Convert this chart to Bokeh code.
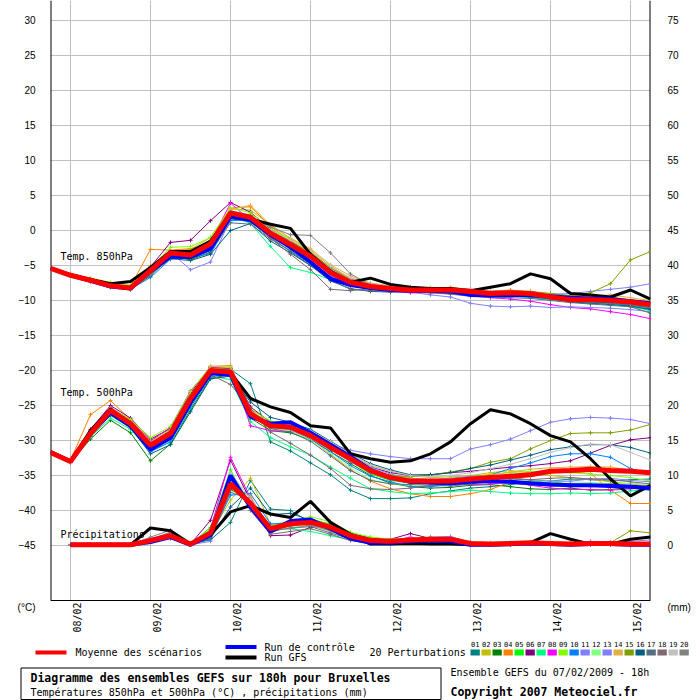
import math
from bokeh.plotting import figure
from bokeh.models import Range1d, LinearAxis, FixedTicker, Label, BoxAnnotation, Span
from bokeh.layouts import column
from bokeh.core.properties import value
from bokeh.embed import file_html
from bokeh.resources import INLINE

# ---------------- data ----------------
hours = [6 * i for i in range(31)]          # 0h .. 180h (run 07/02 18h)
hours_pr = hours[1:]                          # precipitation starts at +6h
day_ticks = [6, 30, 54, 78, 102, 126, 150, 174]
day_label_ticks = [8, 32, 56, 80, 104, 128, 152, 176]
day_labels = ["08/02", "09/02", "10/02", "11/02", "12/02", "13/02", "14/02", "15/02"]
temp_ticks = list(range(-45, 31, 5))
mm_ticks = list(range(0, 76, 5))

pert_names = ["01", "02", "03", "04", "05", "06", "07", "08", "09", "10",
              "11", "12", "13", "14", "15", "16", "17", "18", "19", "20"]
pert_colors = ["#008080", "#c0c000", "#008000", "#ff8000", "#00ff00", "#800080",
               "#00ff80", "#ff00ff", "#80ff00", "#0080ff", "#8080ff", "#80ff80",
               "#8080ff", "#e0b040", "#80a000", "#005f80", "#507080", "#806870",
               "#c0c0c0", "#808080"]

t850_mean = [-5.4, -6.4, -7.1, -7.9, -8.2, -5.7, -3.2, -3.5, -1.9, 2.5, 1.9, -0.4, -2.0, -3.7, -6.0, -7.4,
             -8.0, -8.3, -8.5, -8.5, -8.5, -8.7, -9.0, -8.9, -9.0, -9.5, -9.9, -9.9, -10.0, -10.2, -10.6]
t850_ctrl = [-5.4, -6.4, -7.2, -8.0, -8.3, -5.8, -3.7, -3.8, -2.6, 2.0, 1.5, -0.6, -2.4, -4.5, -6.9, -7.8,
             -8.2, -8.5, -8.6, -8.6, -8.7, -9.2, -9.3, -9.2, -9.2, -9.4, -9.6, -9.7, -9.8, -10.1, -10.4]
t850_gfs = [-5.4, -6.3, -7.0, -7.6, -7.3, -5.3, -3.0, -3.0, -1.5, 2.3, 1.6, 0.9, 0.3, -3.4, -5.8, -7.4,
            -6.8, -7.7, -8.1, -8.3, -8.3, -8.6, -8.1, -7.6, -6.2, -6.9, -9.0, -9.2, -9.5, -8.5, -9.8]
t850_perts = [
    [-5.3, -6.3, -7.2, -8.0, -8.4, -6.2, -3.8, -3.9, -2.8, 1.8, 1.2, -1.0, -3.0, -5.0, -6.8, -7.9, -8.3, -8.6, -8.8, -8.7, -8.9, -9.1, -9.3, -9.0, -9.2, -9.6, -10.2, -10.4, -10.3, -10.8, -11.2],
    [-5.5, -6.5, -7.0, -7.9, -8.1, -5.0, -2.9, -2.7, -1.0, 3.1, 2.9, 0.8, -1.2, -2.8, -5.1, -6.9, -7.7, -8.0, -8.3, -8.6, -8.4, -8.5, -8.8, -8.6, -8.7, -9.3, -9.5, -9.5, -9.7, -9.9, -10.1],
    [-5.4, -6.4, -7.3, -8.1, -8.3, -6.5, -3.6, -4.2, -3.1, 1.5, 1.8, -0.9, -2.2, -4.0, -6.1, -7.6, -8.4, -8.4, -8.6, -8.4, -8.7, -9.0, -9.1, -8.8, -9.3, -9.8, -10.0, -10.2, -10.5, -10.6, -11.0],
    [-5.5, -6.5, -7.1, -7.8, -8.0, -2.7, -2.8, -2.6, -1.8, 3.2, 3.4, 0.6, -1.5, -3.0, -5.4, -6.8, -7.6, -8.1, -8.5, -8.3, -8.6, -8.9, -8.7, -8.5, -8.8, -9.0, -9.4, -9.6, -9.5, -9.9, -10.3],
    [-5.4, -6.4, -7.2, -8.0, -8.2, -5.6, -3.4, -3.6, -1.6, 2.8, 2.2, -0.2, -1.8, -3.5, -5.8, -7.2, -8.1, -8.5, -8.4, -8.6, -8.5, -8.8, -8.9, -9.1, -9.0, -9.4, -9.7, -10.0, -10.3, -10.5, -11.5],
    [-5.4, -6.3, -7.1, -7.9, -8.1, -5.2, -1.7, -1.4, 1.4, 4.0, 2.6, 0.2, -1.6, -3.6, -5.9, -7.0, -7.7, -8.0, -8.1, -8.2, -8.3, -8.4, -8.7, -8.6, -8.9, -9.2, -9.7, -9.9, -10.2, -10.4, -11.0],
    [-5.3, -6.4, -7.2, -8.0, -8.2, -5.9, -3.5, -3.6, -2.2, 2.1, 1.0, -2.3, -5.3, -6.0, -7.0, -7.6, -8.2, -8.4, -8.6, -8.7, -8.9, -9.3, -9.4, -9.3, -9.6, -9.9, -10.1, -10.3, -10.4, -10.9, -11.4],
    [-5.4, -6.5, -7.2, -8.0, -8.3, -5.8, -3.3, -3.4, -1.7, 3.9, 1.4, -0.8, -2.4, -4.0, -6.4, -7.8, -8.3, -8.7, -8.9, -8.9, -9.0, -9.3, -9.6, -9.8, -10.1, -10.6, -11.0, -11.2, -11.6, -12.0, -12.6],
    [-5.3, -6.2, -6.8, -7.4, -7.8, -5.4, -2.4, -2.3, -1.0, 3.3, 2.5, 0.3, -1.3, -3.5, -6.2, -7.3, -8.0, -8.2, -8.6, -8.8, -8.6, -8.8, -9.0, -9.1, -9.2, -9.6, -10.0, -10.2, -10.1, -10.4, -10.8],
    [-5.4, -6.4, -7.2, -8.1, -8.4, -6.7, -4.1, -3.9, -3.3, 1.4, 1.5, -0.7, -2.6, -4.4, -6.6, -7.7, -8.1, -8.4, -8.5, -8.4, -8.8, -9.2, -9.4, -9.2, -9.5, -9.8, -10.1, -10.2, -10.4, -10.7, -11.0],
    [-5.4, -6.4, -7.1, -7.9, -8.2, -6.0, -3.1, -5.6, -4.5, 1.6, 2.1, -0.3, -2.1, -3.9, -6.3, -7.5, -8.2, -8.6, -8.8, -9.2, -9.5, -10.4, -10.8, -10.9, -10.8, -11.0, -10.9, -11.0, -11.1, -11.3, -11.6],
    [-5.4, -6.4, -7.1, -7.9, -8.2, -5.9, -3.4, -3.3, -2.0, 2.7, 2.0, -0.5, -2.8, -4.1, -5.5, -7.2, -8.2, -8.3, -8.4, -8.1, -8.3, -8.6, -8.9, -8.8, -8.9, -9.3, -9.8, -9.9, -10.1, -10.4, -10.9],
    [-5.4, -6.4, -7.2, -8.0, -8.3, -5.9, -3.6, -3.7, -2.3, 2.3, 1.6, -0.7, -2.0, -3.3, -5.6, -7.0, -7.9, -8.3, -8.5, -8.6, -8.6, -8.7, -8.8, -8.9, -8.9, -9.1, -9.0, -8.7, -8.4, -8.1, -7.6],
    [-5.5, -6.5, -7.1, -7.8, -8.0, -5.5, -2.9, -3.0, -1.4, 3.0, 3.6, 0.8, -1.1, -2.6, -4.9, -6.5, -7.5, -7.9, -8.2, -8.3, -8.1, -8.4, -8.7, -8.6, -8.8, -9.1, -9.3, -9.4, -9.2, -9.6, -10.0],
    [-5.4, -6.3, -7.0, -7.8, -8.1, -5.6, -3.0, -3.3, -1.6, 2.6, 2.1, 0.1, -1.5, -3.2, -5.3, -7.1, -7.8, -8.2, -8.3, -8.5, -8.4, -8.6, -8.8, -8.7, -8.7, -9.0, -9.3, -8.9, -7.6, -4.2, -3.0],
    [-5.4, -6.4, -7.2, -8.0, -8.3, -6.3, -4.0, -4.3, -3.4, 0.0, 1.0, -1.5, -3.2, -5.0, -7.2, -8.3, -8.7, -8.8, -8.7, -8.8, -8.9, -9.1, -9.3, -9.4, -9.5, -9.7, -10.2, -10.4, -10.6, -10.8, -11.3],
    [-5.4, -6.4, -7.2, -8.0, -8.3, -6.1, -3.9, -4.0, -2.9, 1.1, 0.9, -1.2, -2.9, -4.8, -7.1, -8.4, -8.6, -8.7, -8.7, -8.9, -9.1, -9.4, -9.5, -9.6, -9.7, -10.0, -10.3, -10.5, -10.7, -10.9, -11.8],
    [-5.4, -6.4, -7.2, -8.0, -8.4, -6.4, -3.5, -3.9, -2.5, 2.2, 1.3, -1.1, -3.4, -5.6, -8.4, -8.6, -8.3, -8.5, -8.7, -8.6, -8.8, -9.0, -9.2, -9.3, -9.4, -9.5, -9.8, -10.0, -10.3, -10.6, -11.0],
    [-5.4, -6.4, -7.1, -7.9, -8.2, -5.7, -3.2, -3.5, -2.1, 2.4, 1.7, 0.1, -1.4, -2.9, -5.1, -6.8, -7.6, -8.0, -8.2, -8.3, -8.4, -8.5, -8.7, -8.7, -8.8, -9.2, -9.6, -9.7, -9.9, -10.3, -10.7],
    [-5.4, -6.4, -7.2, -8.0, -8.5, -6.2, -3.4, -3.3, -2.0, 2.6, 2.1, 0.5, -0.6, -0.7, -3.2, -6.2, -7.8, -8.2, -8.4, -8.6, -8.5, -8.8, -8.9, -8.8, -9.0, -9.3, -9.6, -9.8, -10.0, -10.2, -10.5],
]

t500_mean = [-31.7, -33.0, -29.0, -25.7, -27.6, -30.7, -29.0, -24.0, -20.0, -20.2, -26.2, -27.9, -28.1, -29.3, -31.0, -32.6,
             -34.3, -35.3, -35.8, -35.8, -35.8, -35.5, -35.3, -35.1, -34.9, -34.4, -34.3, -34.1, -34.3, -34.4, -34.6]
t500_ctrl = [-31.7, -33.0, -29.0, -26.0, -27.9, -31.3, -29.6, -24.6, -20.4, -20.6, -26.6, -27.6, -27.4, -28.9, -30.6, -32.3,
             -34.2, -35.3, -35.9, -36.0, -36.1, -35.9, -35.8, -35.9, -36.1, -36.3, -36.4, -36.4, -36.5, -36.6, -36.8]
t500_gfs = [-31.6, -32.9, -28.6, -25.5, -27.8, -31.3, -29.5, -24.4, -20.3, -20.3, -24.0, -25.2, -26.0, -27.9, -28.2, -31.9,
            -32.6, -33.1, -32.9, -31.9, -30.2, -27.6, -25.6, -26.2, -27.6, -29.3, -30.2, -32.6, -35.5, -37.9, -36.4]
t500_perts = [
    [-31.6, -33.1, -29.3, -26.2, -28.0, -31.4, -29.8, -24.6, -20.4, -19.8, -21.9, -30.2, -31.5, -33.2, -34.9, -37.1, -38.3, -38.3, -38.2, -37.6, -37.2, -36.8, -36.6, -36.3, -36.0, -35.8, -35.5, -35.6, -35.8, -35.6, -35.5],
    [-31.7, -32.9, -28.5, -25.3, -27.0, -30.0, -28.2, -23.1, -19.6, -19.9, -25.5, -27.3, -27.6, -28.8, -30.4, -32.0, -33.6, -34.4, -35.0, -35.3, -35.2, -35.0, -34.6, -34.3, -34.6, -35.0, -35.3, -35.5, -35.9, -36.2, -36.5],
    [-31.8, -33.1, -29.8, -27.1, -28.9, -32.9, -30.5, -25.6, -21.1, -20.6, -26.8, -28.6, -28.9, -29.9, -31.6, -33.3, -35.0, -36.1, -36.6, -36.8, -36.7, -36.4, -36.3, -36.6, -36.9, -37.0, -36.8, -37.1, -37.0, -36.7, -36.9],
    [-31.6, -32.8, -26.3, -24.3, -27.0, -30.3, -28.6, -23.5, -19.4, -19.3, -25.8, -27.6, -28.4, -29.8, -32.0, -34.2, -35.8, -36.9, -37.6, -38.0, -38.0, -37.6, -37.0, -35.9, -34.9, -34.6, -34.5, -34.7, -37.1, -39.0, -39.0],
    [-31.7, -33.0, -28.7, -25.5, -27.3, -30.4, -28.5, -23.4, -19.5, -19.8, -25.9, -27.8, -28.3, -29.6, -31.3, -33.0, -34.8, -35.7, -36.1, -36.0, -35.9, -35.6, -35.3, -35.4, -35.7, -35.9, -36.2, -36.4, -36.3, -36.6, -36.8],
    [-31.7, -33.0, -28.4, -25.0, -26.8, -29.8, -28.3, -23.2, -19.5, -19.7, -25.2, -27.4, -27.9, -28.9, -30.5, -32.2, -33.8, -34.6, -35.0, -34.9, -34.6, -34.4, -34.1, -33.8, -33.6, -33.3, -32.9, -31.8, -30.7, -29.9, -29.6],
    [-31.7, -33.1, -29.5, -26.8, -28.4, -31.6, -30.1, -25.3, -20.8, -21.3, -27.3, -29.6, -30.9, -32.1, -33.8, -35.4, -36.9, -37.3, -37.6, -37.5, -37.3, -37.1, -37.3, -37.5, -37.6, -37.6, -37.5, -37.6, -37.5, -37.2, -37.0],
    [-31.7, -33.0, -28.6, -25.3, -27.1, -30.1, -28.1, -22.9, -19.6, -19.6, -27.9, -28.6, -28.7, -29.5, -31.2, -33.0, -34.6, -35.5, -36.0, -36.2, -36.3, -36.3, -36.2, -36.0, -36.4, -36.8, -37.0, -37.0, -37.1, -36.9, -36.7],
    [-31.7, -33.0, -28.7, -25.4, -27.0, -29.6, -28.0, -23.0, -19.4, -19.5, -25.6, -27.2, -27.8, -29.0, -30.8, -32.6, -34.2, -35.2, -35.6, -35.6, -35.5, -35.2, -34.8, -34.6, -34.4, -34.5, -34.6, -34.8, -35.0, -35.3, -35.8],
    [-31.7, -33.0, -29.2, -26.3, -28.1, -31.6, -30.2, -25.2, -20.9, -20.5, -26.0, -27.6, -28.2, -29.8, -31.6, -33.6, -35.1, -35.9, -36.6, -36.6, -36.3, -35.6, -34.9, -34.0, -33.2, -32.3, -31.9, -31.9, -32.4, -34.0, -34.8],
    [-31.7, -33.2, -29.1, -26.0, -27.8, -31.0, -29.4, -24.4, -20.3, -20.4, -26.4, -28.0, -28.5, -29.5, -30.5, -31.4, -31.9, -32.3, -32.6, -32.6, -32.6, -31.2, -30.6, -29.8, -28.6, -27.4, -26.9, -26.7, -26.8, -27.0, -27.6],
    [-31.7, -32.9, -28.9, -25.9, -27.5, -30.5, -28.7, -23.7, -19.8, -20.0, -26.1, -28.2, -28.6, -29.9, -31.9, -33.9, -35.6, -36.2, -36.4, -36.1, -35.8, -35.6, -35.7, -35.9, -36.0, -35.8, -35.9, -36.0, -36.2, -36.1, -36.3],
    [-31.7, -33.0, -28.9, -25.8, -27.7, -30.9, -29.2, -24.1, -20.1, -20.2, -26.1, -27.6, -27.9, -28.9, -30.3, -32.0, -33.8, -34.8, -35.4, -35.6, -35.4, -35.1, -35.0, -35.4, -35.6, -35.8, -35.8, -35.5, -35.4, -35.7, -35.9],
    [-31.7, -33.0, -28.6, -25.4, -27.3, -30.2, -28.4, -23.5, -19.4, -19.6, -25.8, -27.5, -27.9, -29.0, -30.8, -32.6, -34.2, -35.0, -35.4, -35.6, -35.6, -35.3, -34.9, -34.5, -34.1, -33.9, -33.8, -33.7, -33.8, -34.2, -35.0],
    [-31.7, -33.0, -28.8, -25.6, -27.4, -30.6, -28.9, -23.8, -19.8, -20.0, -25.9, -27.7, -28.2, -29.4, -31.1, -32.8, -34.3, -35.0, -35.2, -34.9, -34.5, -34.0, -33.1, -32.6, -31.2, -30.0, -29.0, -28.9, -28.9, -28.5, -27.7],
    [-31.6, -33.1, -29.4, -26.4, -28.2, -31.9, -30.6, -25.9, -21.2, -20.8, -24.5, -26.7, -27.4, -28.4, -30.1, -31.8, -33.3, -34.2, -34.9, -34.9, -34.6, -34.0, -33.5, -32.8, -32.1, -31.3, -30.9, -30.6, -30.6, -31.0, -31.8],
    [-31.7, -33.0, -29.0, -25.9, -27.8, -31.1, -29.5, -24.5, -20.5, -20.8, -26.5, -28.3, -28.8, -30.1, -32.2, -34.3, -35.7, -36.2, -36.3, -36.4, -36.5, -36.2, -35.9, -36.1, -36.3, -36.5, -36.4, -36.6, -36.5, -36.8, -37.1],
    [-31.7, -33.1, -29.2, -26.3, -27.9, -31.2, -29.7, -24.8, -20.6, -22.0, -25.4, -28.8, -30.4, -32.1, -34.0, -36.4, -36.9, -37.0, -36.8, -36.4, -36.0, -35.7, -35.4, -35.5, -35.6, -35.4, -35.3, -35.5, -35.6, -35.9, -36.2],
    [-31.7, -33.0, -28.9, -25.6, -27.5, -30.4, -28.8, -23.8, -19.9, -20.1, -26.0, -27.4, -27.7, -28.6, -30.2, -31.9, -33.5, -34.4, -35.0, -35.2, -35.0, -34.6, -34.0, -33.4, -32.6, -31.7, -31.0, -30.5, -30.6, -31.7, -32.8],
    [-31.7, -33.0, -28.8, -25.5, -27.4, -30.3, -28.6, -23.7, -19.9, -20.3, -26.3, -28.1, -28.2, -29.1, -30.9, -32.9, -34.6, -35.4, -35.9, -36.0, -35.9, -35.7, -35.6, -35.8, -36.0, -36.1, -36.2, -36.3, -36.2, -36.4, -36.6],
]

pr_mean = [0.1, 0.1, 0.1, 0.1, 0.7, 1.4, 0.2, 1.8, 8.8, 6.0, 2.4, 3.1, 3.3, 2.6, 1.4,
           0.7, 0.6, 0.8, 0.9, 0.9, 0.3, 0.2, 0.3, 0.4, 0.3, 0.2, 0.3, 0.3, 0.2, 0.2]
pr_ctrl = [0.1, 0.1, 0.1, 0.1, 0.5, 1.2, 0.1, 1.5, 10.0, 5.5, 2.0, 3.5, 3.7, 2.4, 1.0,
           0.4, 0.4, 0.6, 0.7, 0.6, 0.1, 0.1, 0.2, 0.3, 0.2, 0.1, 0.2, 0.2, 0.1, 0.1]
pr_gfs = [0.1, 0.1, 0.1, 0.1, 2.5, 2.1, 0.2, 1.5, 4.8, 5.7, 4.5, 4.0, 6.3, 3.3, 1.6,
          0.2, 0.2, 0.3, 0.2, 0.2, 0.1, 0.1, 0.1, 0.4, 1.7, 0.9, 0.2, 0.2, 0.9, 1.2]
pr_perts = [
    [0.1, 0.1, 0.1, 0.1, 0.6, 1.2, 0.2, 0.8, 3.3, 9.3, 5.2, 5.0, 3.3, 2.9, 1.8, 1.0, 0.8, 0.7, 0.8, 1.0, 0.5, 0.3, 0.3, 0.4, 0.3, 0.2, 0.2, 0.3, 0.4, 0.3],
    [0.1, 0.1, 0.1, 0.1, 0.8, 1.5, 0.2, 1.6, 6.5, 9.6, 3.0, 2.8, 3.5, 3.0, 1.5, 0.8, 0.5, 0.9, 1.0, 0.8, 0.2, 0.1, 0.2, 0.3, 0.2, 0.3, 0.4, 0.3, 0.2, 0.2],
    [0.1, 0.1, 0.1, 0.1, 0.5, 1.1, 0.1, 1.4, 8.0, 6.5, 1.8, 2.9, 3.1, 2.2, 1.0, 0.5, 0.5, 0.7, 0.8, 0.9, 0.2, 0.2, 0.3, 0.5, 0.3, 0.1, 0.2, 0.2, 0.1, 0.1],
    [0.1, 0.1, 0.1, 0.1, 0.9, 1.6, 0.2, 2.0, 9.4, 5.6, 2.6, 3.3, 3.2, 2.5, 1.2, 0.6, 0.4, 0.6, 0.9, 1.0, 0.3, 0.1, 0.2, 0.4, 0.2, 0.1, 0.2, 0.1, 0.0, 0.0],
    [0.1, 0.1, 0.1, 0.1, 0.7, 1.3, 0.2, 2.6, 10.8, 5.4, 2.2, 3.0, 3.6, 3.1, 1.7, 0.9, 0.7, 0.9, 1.1, 0.7, 0.3, 0.4, 0.4, 0.5, 0.3, 0.2, 0.3, 0.3, 0.2, 0.1],
    [0.1, 0.1, 0.1, 0.1, 0.8, 1.4, 0.2, 3.6, 12.2, 6.4, 1.4, 1.5, 2.6, 2.8, 1.6, 1.1, 0.9, 1.7, 1.0, 0.8, 0.3, 0.2, 0.3, 0.3, 0.2, 0.2, 0.3, 0.2, 0.2, 0.1],
    [0.1, 0.1, 0.1, 0.1, 0.6, 1.2, 0.2, 1.9, 9.6, 5.8, 2.8, 2.4, 2.0, 1.4, 0.8, 0.4, 0.3, 0.5, 0.6, 0.7, 0.2, 0.1, 0.2, 0.2, 0.1, 0.1, 0.1, 0.2, 0.1, 0.1],
    [0.1, 0.1, 0.1, 0.1, 1.0, 1.7, 0.3, 2.3, 12.6, 6.8, 2.5, 2.7, 3.4, 2.7, 1.3, 0.7, 0.6, 1.2, 0.7, 0.6, 0.2, 0.2, 0.3, 0.4, 0.3, 0.2, 0.2, 0.3, 0.2, 0.2],
    [0.1, 0.1, 0.1, 0.1, 0.7, 1.4, 0.2, 2.4, 10.2, 6.1, 2.9, 3.5, 4.1, 3.4, 1.9, 1.2, 0.9, 1.0, 1.2, 0.9, 0.4, 0.2, 0.3, 0.5, 0.3, 0.2, 0.3, 0.4, 0.3, 0.2],
    [0.1, 0.1, 0.1, 0.1, 0.5, 1.0, 0.1, 1.2, 7.2, 7.4, 3.1, 3.2, 3.0, 2.3, 1.1, 0.5, 0.5, 0.6, 0.7, 0.8, 0.2, 0.2, 0.2, 0.3, 0.2, 0.1, 0.2, 0.2, 0.1, 0.1],
    [0.1, 0.1, 0.1, 0.1, 0.6, 1.1, 0.1, 0.6, 9.0, 5.3, 2.1, 3.4, 3.8, 2.8, 1.4, 0.6, 0.7, 0.9, 1.2, 1.3, 0.4, 0.2, 0.3, 0.4, 0.3, 0.3, 0.6, 0.3, 0.2, 0.2],
    [0.1, 0.1, 0.1, 0.1, 0.7, 1.3, 0.2, 1.7, 9.2, 5.9, 2.3, 2.6, 2.9, 2.0, 1.0, 0.6, 0.6, 0.8, 0.9, 0.8, 0.3, 0.3, 0.5, 0.4, 0.2, 0.2, 0.3, 0.3, 0.2, 0.2],
    [0.1, 0.1, 0.1, 0.1, 0.6, 1.2, 0.1, 1.3, 8.4, 6.3, 2.7, 3.3, 3.4, 2.7, 1.5, 0.8, 0.5, 0.7, 0.8, 1.0, 0.3, 0.2, 0.3, 0.4, 0.3, 0.2, 0.4, 0.5, 0.6, 0.8],
    [0.1, 0.1, 0.1, 0.1, 0.8, 1.5, 0.2, 1.9, 8.2, 7.0, 2.4, 2.9, 3.2, 2.6, 1.3, 0.7, 0.5, 0.8, 0.9, 0.8, 0.3, 0.2, 0.2, 0.3, 0.2, 0.1, 0.2, 0.2, 0.1, 0.1],
    [0.1, 0.1, 0.1, 0.1, 0.7, 1.3, 0.2, 1.8, 8.6, 6.2, 2.6, 3.2, 3.8, 3.0, 1.6, 0.9, 0.6, 0.9, 1.0, 0.9, 0.3, 0.2, 0.3, 0.4, 0.3, 0.2, 0.3, 0.4, 2.1, 1.8],
    [0.1, 0.1, 0.1, 0.1, 0.6, 1.1, 0.1, 1.0, 5.5, 8.2, 4.4, 4.6, 3.6, 2.2, 1.2, 0.6, 0.5, 0.6, 0.7, 0.8, 0.2, 0.1, 0.2, 0.3, 0.2, 0.1, 0.2, 0.2, 0.1, 0.1],
    [0.1, 0.1, 0.1, 0.1, 0.5, 1.2, 0.1, 1.1, 7.6, 6.6, 2.0, 2.5, 2.7, 1.8, 0.9, 0.5, 0.4, 0.6, 0.7, 0.6, 0.2, 0.1, 0.2, 0.3, 0.2, 0.1, 0.1, 0.2, 0.1, 0.1],
    [0.1, 0.1, 0.1, 0.1, 0.9, 1.9, 0.3, 1.5, 9.8, 5.0, 1.6, 2.0, 2.4, 1.6, 0.7, 0.3, 0.2, 0.4, 0.5, 0.5, 0.1, 0.1, 0.1, 0.2, 0.1, 0.1, 0.1, 0.1, 0.0, 0.0],
    [0.1, 0.1, 0.1, 0.1, 0.8, 1.6, 0.2, 2.1, 10.4, 6.6, 2.4, 3.0, 3.3, 2.4, 1.2, 0.7, 0.6, 0.8, 0.9, 0.8, 0.3, 0.2, 0.3, 0.3, 0.2, 0.2, 0.3, 0.3, 0.2, 0.2],
    [0.1, 0.1, 0.1, 0.1, 1.2, 2.2, 0.3, 1.7, 9.1, 5.7, 2.2, 2.4, 2.9, 2.1, 1.1, 0.6, 0.5, 0.7, 0.8, 0.7, 0.2, 0.2, 0.2, 0.3, 0.2, 0.1, 0.2, 0.2, 0.1, 0.1],
]

# ---------------- main chart ----------------
MONO = "DejaVu Sans Mono"
TMAX = 32.857          # top of frame
BORDER = -52.857       # bottom border line of the diagram
TMIN = -54.571         # frame extends a little lower to carry the unit captions
UNIT_Y = -53.857       # row of the "(°C)" / "(mm)" captions

p = figure(width=700, height=640, x_range=Range1d(0, 180), y_range=Range1d(TMIN, TMAX),
           output_backend="svg", toolbar_location=None,
           min_border_left=50, min_border_right=50, min_border_top=0, min_border_bottom=28)
p.frame_align = False
p.extra_y_ranges = {"mm": Range1d(TMIN + 45, TMAX + 45)}
p.outline_line_color = None
p.background_fill_color = "white"
p.border_fill_color = "white"

p.xgrid.ticker = FixedTicker(ticks=day_ticks)
p.ygrid.ticker = FixedTicker(ticks=temp_ticks)
p.grid.grid_line_color = "#c0c0c0"
p.grid.grid_line_width = 1

# mask the strip below the border line (keeps grid lines inside the diagram)
p.add_layout(BoxAnnotation(top=BORDER, fill_color="white", fill_alpha=1.0,
                           line_color=None, level="underlay"))

# left axis (°C) with the unit caption as its lowest label
p.yaxis.ticker = FixedTicker(ticks=[UNIT_Y] + temp_ticks)
p.yaxis.major_label_overrides = {UNIT_Y: "(°C)"}
p.yaxis.major_tick_out = 0
p.yaxis.major_tick_in = 0
p.yaxis.minor_tick_line_color = None
p.yaxis.axis_line_color = None
p.yaxis.major_label_standoff = 15
p.yaxis.major_label_text_font = "Liberation Sans"
p.yaxis.major_label_text_font_size = "10px"
p.yaxis.major_label_text_color = "black"

# right axis (precipitation, mm)
ax_r = LinearAxis(y_range_name="mm", ticker=FixedTicker(ticks=[UNIT_Y + 45] + mm_ticks))
ax_r.major_label_overrides = {UNIT_Y + 45: "(mm)"}
ax_r.major_tick_out = 0
ax_r.major_tick_in = 0
ax_r.minor_tick_line_color = None
ax_r.axis_line_color = None
ax_r.major_label_standoff = 17
ax_r.major_label_text_font = "Liberation Sans"
ax_r.major_label_text_font_size = "10px"
ax_r.major_label_text_color = "black"
p.add_layout(ax_r, "right")

# bottom axis (dates), labels pulled up to start right under the border line
p.xaxis.ticker = FixedTicker(ticks=day_label_ticks)
p.xaxis.major_label_overrides = {t: s for t, s in zip(day_label_ticks, day_labels)}
p.xaxis.major_label_orientation = math.pi / 2
p.xaxis.major_tick_out = 0
p.xaxis.major_tick_in = 0
p.xaxis.minor_tick_line_color = None
p.xaxis.axis_line_color = None
p.xaxis.major_label_standoff = -10
p.xaxis.major_label_text_font = MONO
p.xaxis.major_label_text_font_size = "10px"
p.xaxis.major_label_text_color = "black"

# frame lines: left / right sides and bottom border
p.segment(x0=[0, 180], y0=[BORDER, BORDER], x1=[0, 180], y1=[TMAX, TMAX],
          line_color="black", line_width=2)
p.add_layout(Span(location=BORDER, dimension="width", line_color="black", line_width=1))

# perturbations
for vals, col in zip(t850_perts, pert_colors):
    p.line(hours, vals, line_color=col, line_width=1)
    p.scatter(hours, vals, marker="cross", size=4, line_color=col)
for vals, col in zip(t500_perts, pert_colors):
    p.line(hours, vals, line_color=col, line_width=1)
    p.scatter(hours, vals, marker="cross", size=4, line_color=col)
for vals, col in zip(pr_perts, pert_colors):
    p.line(hours_pr, vals, line_color=col, line_width=1, y_range_name="mm")
    p.scatter(hours_pr, vals, marker="cross", size=4, line_color=col, y_range_name="mm")

# GFS run, control run, mean
p.line(hours, t850_gfs, line_color="black", line_width=3)
p.line(hours, t500_gfs, line_color="black", line_width=3)
p.line(hours_pr, pr_gfs, line_color="black", line_width=3, y_range_name="mm")
p.line(hours, t850_ctrl, line_color="#0000ff", line_width=4)
p.line(hours, t500_ctrl, line_color="#0000ff", line_width=4)
p.line(hours_pr, pr_ctrl, line_color="#0000ff", line_width=4, y_range_name="mm")
p.line(hours, t850_mean, line_color="#ff0000", line_width=5)
p.line(hours, t500_mean, line_color="#ff0000", line_width=5)
p.line(hours_pr, pr_mean, line_color="#ff0000", line_width=5, y_range_name="mm")

for txt_s, yy in [("Temp. 850hPa", -3.65), ("Temp. 500hPa", -23.1), ("Précipitations", -43.4)]:
    p.add_layout(Label(x=3, y=yy, text=txt_s, text_font=MONO, text_font_size="10px",
                       text_baseline="middle", text_align="left", text_color="black"))

# ---------------- legend / caption strip ----------------
q = figure(width=700, height=60, x_range=Range1d(0, 700), y_range=Range1d(700, 640),
           output_backend="svg", toolbar_location=None,
           x_axis_location=None, y_axis_location=None,
           min_border=0, min_border_left=0, min_border_right=0, min_border_top=0, min_border_bottom=0)
q.frame_align = False
q.grid.visible = False
q.outline_line_color = None
q.background_fill_color = "white"
q.border_fill_color = "white"

q.segment(x0=[35], y0=[652], x1=[66], y1=[652], line_color="#ff0000", line_width=4)
q.segment(x0=[225], y0=[646.5], x1=[256], y1=[646.5], line_color="#0000ff", line_width=4)
q.segment(x0=[225], y0=[657], x1=[256], y1=[657], line_color="black", line_width=4)

def txt(x, y, s, size="10px", style="normal"):
    q.text(x=[x], y=[y], text=[s], text_font=value(MONO), text_font_size=size,
           text_font_style=style, text_baseline="middle", text_align="left", text_color="black")

txt(75, 652, "Moyenne des scénarios")
txt(264, 646.5, "Run de contrôle")
txt(264, 657, "Run GFS")
txt(369, 652, "20 Perturbations")

sw_x = [470 + 11 * k + 4.65 for k in range(len(pert_names))]
q.rect(x=sw_x, y=[652] * len(sw_x), width=9.3, height=6, fill_color=pert_colors, line_color=None)
q.text(x=sw_x, y=[643] * len(sw_x), text=pert_names, text_font=value(MONO), text_font_size="7px",
       text_baseline="middle", text_align="center", text_color="black")

q.quad(left=[20.5], right=[440.5], top=[667.5], bottom=[699], fill_color=None, line_color="black", line_width=1)
txt(30, 677, "Diagramme des ensembles GEFS sur 180h pour Bruxelles", size="11.5px", style="bold")
txt(30, 691.5, "Températures 850hPa et 500hPa (°C) , précipitations (mm)")
txt(450, 672, "Ensemble GEFS du 07/02/2009 - 18h")
txt(450, 691.5, "Copyright 2007 Meteociel.fr", size="11.5px", style="bold")

layout = column(p, q, spacing=0)
open("out.html", "w").write(file_html(layout, INLINE))
